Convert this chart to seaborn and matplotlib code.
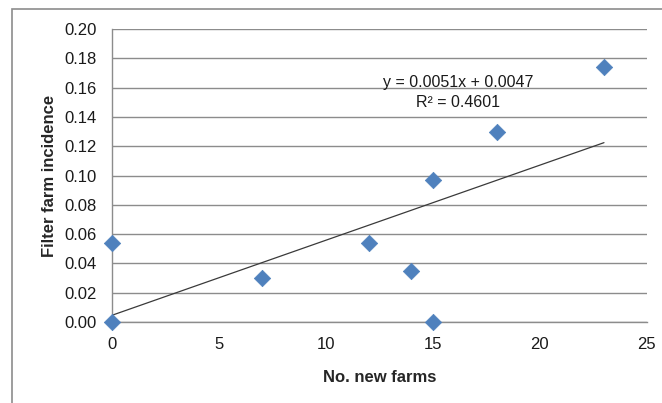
"""Scatter of filter farm incidence against number of new farms, with linear trend."""

import matplotlib

matplotlib.use("Agg")
import matplotlib.pyplot as plt
import numpy as np
import pandas as pd
import seaborn as sns
from matplotlib.patches import Rectangle

# Data
new_farms = [0, 0, 7, 12, 14, 15, 15, 18, 23]
incidence = [0.000, 0.054, 0.030, 0.054, 0.035, 0.097, 0.000, 0.130, 0.174]
x_ticks = [0, 5, 10, 15, 20, 25]
y_ticks = [0.00, 0.02, 0.04, 0.06, 0.08, 0.10, 0.12, 0.14, 0.16, 0.18, 0.20]

df = pd.DataFrame({"farms": new_farms, "incidence": incidence})

sns.set_style("white")
plt.rcParams["font.family"] = ["Liberation Sans", "DejaVu Sans"]

fig = plt.figure(figsize=(6.62, 4.03), dpi=100)
ax = fig.add_axes([0.169, 0.201, 0.808, 0.727])

grid_col = "#8c8c8c"

# Trend line (least squares) drawn by seaborn
sns.regplot(
    data=df, x="farms", y="incidence", scatter=False, ci=None, truncate=True,
    line_kws={"color": "#3a3a3a", "linewidth": 0.9}, ax=ax,
)
sns.scatterplot(
    data=df, x="farms", y="incidence", marker="D", s=70,
    color="#4f81bd", edgecolor="#4f81bd", linewidth=0.5, zorder=4,
    clip_on=False, ax=ax,
)

ax.set_xlim(0, 25)
ax.set_ylim(0, 0.20)
ax.set_xticks(x_ticks)
ax.set_yticks(y_ticks)
ax.set_xticklabels([str(t) for t in x_ticks])
ax.set_yticklabels([f"{t:.2f}" for t in y_ticks])
ax.grid(axis="y", color=grid_col, linewidth=1)
ax.set_axisbelow(True)

for side in ["top", "right"]:
    ax.spines[side].set_visible(False)
for side in ["left", "bottom"]:
    ax.spines[side].set_color(grid_col)
    ax.spines[side].set_linewidth(1)

ax.tick_params(axis="both", which="both", direction="out", length=5,
               color=grid_col, labelsize=12, labelcolor="#1a1a1a")
ax.tick_params(axis="x", pad=6)
ax.tick_params(axis="y", pad=6)

ax.set_xlabel("No. new farms", fontsize=12, fontweight="bold", labelpad=13)
ax.set_ylabel("Filter farm incidence", fontsize=12, fontweight="bold", labelpad=5)

ax.text(16.17, 0.1638, "y = 0.0051x + 0.0047", ha="center", va="center",
        fontsize=11.5, color="#1a1a1a")
ax.text(16.17, 0.1495, "R\u00b2 = 0.4601", ha="center", va="center",
        fontsize=11.5, color="#1a1a1a")

# chart frame (only left/top edges visible in the crop)
fig.patches.append(Rectangle((12 / 662, -0.1), 1.2, 1 - 9 / 403 + 0.1,
                             transform=fig.transFigure, fill=False,
                             edgecolor="#8c8c8c", linewidth=1.2))

fig.savefig("out.png", dpi=100)
plt.close(fig)
